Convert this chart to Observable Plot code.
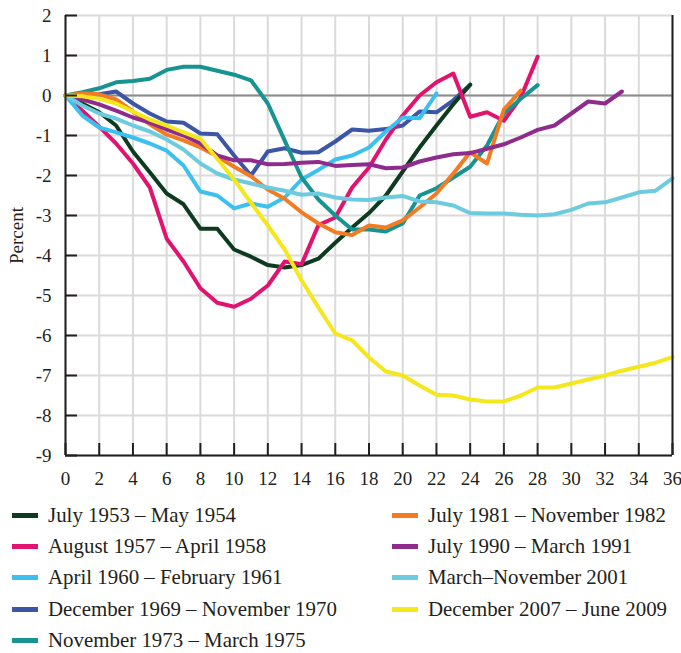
<!DOCTYPE html>
<html><head><meta charset="utf-8">
<script src="https://cdn.jsdelivr.net/npm/d3@7"></script>
<script src="https://cdn.jsdelivr.net/npm/@observablehq/plot@0.6"></script>
<style>
body{margin:0;background:#fff;font-family:"Liberation Serif",serif;}
#legend{display:grid;grid-template-columns:380px auto;grid-template-rows:repeat(5,31.2px);grid-auto-flow:column;padding-left:12px;margin-top:10px;font-size:20.9px;color:#231f20}
.item{display:flex;align-items:center;white-space:nowrap}
.sw{width:26px;height:5px;margin-right:10px;flex:none}
</style></head><body>
<div id="chart"></div><div id="legend"></div>
<script>
// Series values: percent change from peak, one value per month (index = month)
const s1953 = [0,-0.2,-0.42,-0.75,-1.4,-1.92,-2.45,-2.72,-3.33,-3.33,-3.85,-4.03,-4.24,-4.3,-4.24,-4.08,-3.68,-3.3,-2.94,-2.5,-1.9,-1.3,-0.75,-0.22,0.27];
const s1957 = [0,-0.38,-0.78,-1.2,-1.7,-2.3,-3.58,-4.15,-4.82,-5.18,-5.28,-5.08,-4.75,-4.15,-4.22,-3.24,-3.05,-2.3,-1.8,-1.1,-0.5,0.0,0.33,0.55,-0.53,-0.42,-0.63,-0.05,0.97];
const s1960 = [0,-0.5,-0.8,-0.92,-1.05,-1.2,-1.38,-1.75,-2.4,-2.5,-2.82,-2.7,-2.78,-2.55,-2.1,-1.86,-1.6,-1.5,-1.3,-0.9,-0.55,-0.57,0.05];
const s1969 = [0,0,0.03,0.1,-0.2,-0.45,-0.65,-0.68,-0.95,-0.97,-1.5,-2.0,-1.4,-1.32,-1.43,-1.42,-1.15,-0.85,-0.88,-0.84,-0.75,-0.4,-0.42,-0.12,0.27];
const s1973 = [0,0.08,0.18,0.33,0.36,0.42,0.64,0.72,0.72,0.62,0.52,0.38,-0.2,-1.13,-2.05,-2.6,-3.0,-3.35,-3.35,-3.4,-3.2,-2.5,-2.32,-2.05,-1.78,-1.25,-0.45,-0.08,0.26];
const s1981 = [0,0.05,0.03,-0.1,-0.4,-0.72,-0.98,-1.12,-1.3,-1.52,-1.78,-2.02,-2.35,-2.58,-2.92,-3.2,-3.42,-3.49,-3.25,-3.3,-3.12,-2.8,-2.45,-1.95,-1.42,-1.7,-0.35,0.12];
const s1990 = [0,-0.1,-0.22,-0.38,-0.55,-0.68,-0.85,-1.0,-1.2,-1.5,-1.62,-1.62,-1.72,-1.71,-1.68,-1.66,-1.76,-1.74,-1.72,-1.82,-1.8,-1.65,-1.55,-1.47,-1.44,-1.33,-1.22,-1.05,-0.86,-0.75,-0.45,-0.15,-0.2,0.1];
const s2001 = [0,-0.25,-0.45,-0.58,-0.75,-0.9,-1.1,-1.35,-1.7,-1.95,-2.1,-2.2,-2.3,-2.38,-2.48,-2.45,-2.55,-2.6,-2.61,-2.55,-2.51,-2.65,-2.67,-2.75,-2.94,-2.95,-2.95,-2.98,-3.0,-2.97,-2.86,-2.7,-2.67,-2.55,-2.42,-2.38,-2.07];
const s2007 = [0,-0.02,-0.08,-0.2,-0.4,-0.6,-0.75,-0.92,-1.08,-1.58,-2.1,-2.68,-3.25,-3.85,-4.62,-5.3,-5.95,-6.12,-6.55,-6.9,-7.0,-7.25,-7.48,-7.5,-7.6,-7.65,-7.65,-7.5,-7.3,-7.3,-7.2,-7.1,-7.0,-6.88,-6.78,-6.68,-6.54];

const names = ["July 1953 – May 1954","August 1957 – April 1958","April 1960 – February 1961","December 1969 – November 1970","November 1973 – March 1975","July 1981 – November 1982","July 1990 – March 1991","March–November 2001","December 2007 – June 2009"];
const colors = ["#0e3b1f","#e2136f","#3dc0ef","#3b56a6","#179391","#f37b21","#8e2b8c","#6dcbdf","#f4e71b"];
const xTicks = [0,2,4,6,8,10,12,14,16,18,20,22,24,26,28,30,32,34,36];
const yTicks = [2,1,0,-1,-2,-3,-4,-5,-6,-7,-8,-9];

const seriesList = [s1953,s1957,s1960,s1969,s1973,s1981,s1990,s2001,s2007];
// drawing order: December 1969 series underneath the others
const drawOrder = [3,0,1,2,4,5,6,7,8];
const rows = drawOrder.flatMap(i => seriesList[i].map((v, m) => ({month: m, value: v, name: names[i]})));

const W = 681, H = 490, ML = 65, MR = 9, MT = 15, MB = 35;
const ink = "#231f20";
const plot = Plot.plot({
  width: W, height: H,
  marginLeft: ML, marginRight: MR, marginTop: MT, marginBottom: MB,
  style: {fontFamily: "Liberation Serif, serif", fontSize: "19px", color: ink, background: "#fff", overflow: "visible"},
  x: {domain: [0, 36]},
  y: {domain: [-9, 2]},
  color: {domain: names, range: colors},
  marks: [
    Plot.gridX(xTicks, {stroke: "#dadada", strokeOpacity: 1, strokeWidth: 2}),
    Plot.gridY(yTicks, {stroke: "#dadada", strokeOpacity: 1, strokeWidth: 2}),
    Plot.ruleY([0], {stroke: "#8c8c8c", strokeWidth: 2}),
    Plot.line(rows, {x: "month", y: "value", z: "name", stroke: "name", strokeWidth: 4, strokeLinejoin: "round"}),
    Plot.tickY(yTicks, {y: d => d, stroke: ink, strokeWidth: 2, insetRight: W - ML - MR - 12}),
    Plot.tickX(xTicks, {x: d => d, stroke: ink, strokeWidth: 2, insetTop: H - MT - MB - 12}),
    Plot.ruleX([0, 36], {stroke: ink, strokeWidth: 2}),
    Plot.ruleY([-9], {stroke: ink, strokeWidth: 2}),
    Plot.axisY(yTicks, {tickSize: 0, tickPadding: 14, tickFormat: d => String(d), label: "Percent", labelAnchor: "center", labelArrow: "none", labelOffset: 56}),
    Plot.axisX(xTicks, {tickSize: 0, tickPadding: 16, tickFormat: d => String(d), label: null})
  ]
});
document.getElementById("chart").appendChild(plot);

const legend = document.getElementById("legend");
names.forEach((n, i) => {
  const it = document.createElement("div");
  it.className = "item";
  const sw = document.createElement("span");
  sw.className = "sw";
  sw.style.background = colors[i];
  const t = document.createElement("span");
  t.textContent = n;
  it.appendChild(sw); it.appendChild(t);
  legend.appendChild(it);
});
</script>
</body></html>
